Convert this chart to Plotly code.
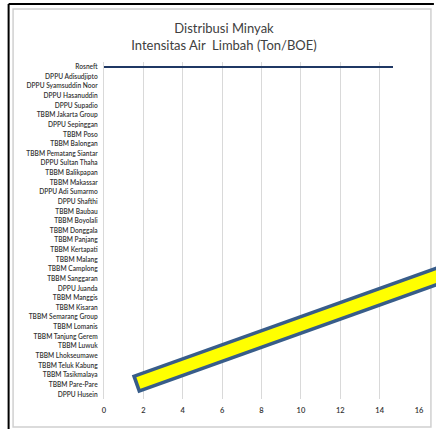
import plotly.graph_objects as go

categories = [
    "Rosneft", "DPPU Adisudjipto", "DPPU Syamsuddin Noor", "DPPU Hasanuddin",
    "DPPU Supadio", "TBBM Jakarta Group", "DPPU Sepinggan", "TBBM Poso",
    "TBBM Balongan", "TBBM Pematang Siantar", "DPPU Sultan Thaha",
    "TBBM Balikpapan", "TBBM Makassar", "DPPU Adi Sumarmo", "DPPU Shafthi",
    "TBBM Baubau", "TBBM Boyolali", "TBBM Donggala", "TBBM Panjang",
    "TBBM Kertapati", "TBBM Malang", "TBBM Camplong", "TBBM Sanggaran",
    "DPPU Juanda", "TBBM Manggis", "TBBM Kisaran", "TBBM Semarang Group",
    "TBBM Lomanis", "TBBM Tanjung Gerem", "TBBM Luwuk", "TBBM Lhokseumawe",
    "TBBM Teluk Kabung", "TBBM Tasikmalaya", "TBBM Pare-Pare", "DPPU Husein",
]
values = [14.7] + [0] * (len(categories) - 1)
x_ticks = [0, 2, 4, 6, 8, 10, 12, 14, 16]

W, H = 436, 429
L, R, T, B = 104, 15, 62, 30
PW, PH = W - L - R, H - T - B


def px(x):
    return (x - L) / PW


def py(y):
    return (H - B - y) / PH


fig = go.Figure()
fig.add_trace(go.Bar(
    y=categories, x=values, orientation="h", width=0.22,
    marker=dict(color="#1F3864", line=dict(width=0)),
))

# decorative highlight stroke (drawn over the chart)
x0, y0 = 135.2, 384.2
slope = -0.355
x1 = 460
y1 = y0 + slope * (x1 - x0)
ux, uy = 0.942, -0.334
shapes = [
    dict(type="line", xref="paper", yref="paper", x0=px(x0), y0=py(y0), x1=px(x1), y1=py(y1),
         line=dict(color="#385D8A", width=19), layer="above"),
    dict(type="line", xref="paper", yref="paper", x0=px(x0 + 3.6 * ux), y0=py(y0 + 3.6 * uy),
         x1=px(x1), y1=py(y1), line=dict(color="#FFFF00", width=12), layer="above"),
    # frame
    dict(type="rect", xref="paper", yref="paper", x0=px(12.5), y0=py(9), x1=px(433), y1=py(427),
         line=dict(color="#D0D0D0", width=1.5), layer="below"),
    dict(type="line", xref="paper", yref="paper", x0=px(8), y0=py(4), x1=px(436), y1=py(4),
         line=dict(color="#000000", width=2)),
    dict(type="line", xref="paper", yref="paper", x0=px(8), y0=py(4), x1=px(8), y1=py(429),
         line=dict(color="#000000", width=2)),
]

fig.update_layout(
    width=W, height=H,
    margin=dict(l=L, r=R, t=T, b=B),
    paper_bgcolor="white", plot_bgcolor="white",
    showlegend=False,
    title=dict(
        text="Distribusi Minyak<br>Intensitas Air  Limbah (Ton/BOE)",
        x=224 / W, xanchor="center", xref="container",
        y=1 - 33 / H, yanchor="middle", yref="container",
        font=dict(family="Lato", size=13, color="#404040"),
    ),
    shapes=shapes,
    xaxis=dict(
        range=[0, 16], tickvals=x_ticks, ticktext=[str(v) for v in x_ticks],
        showgrid=True, gridcolor="#D9D9D9", gridwidth=1, zeroline=False,
        showline=False, ticks="", ticklabelstandoff=5,
        tickfont=dict(family="Lato", size=7.5, color="#333333", weight=600),
    ),
    yaxis=dict(
        categoryorder="array", categoryarray=categories[::-1],
        range=[-0.5, len(categories) - 0.5],
        showgrid=False, zeroline=False,
        showline=True, linecolor="#D9D9D9", linewidth=1,
        ticks="", ticklabelstandoff=4,
        tickfont=dict(family="Lato", size=6.6, color="#333333", weight=600),
    ),
    bargap=0,
)

fig.write_html("out.html")
